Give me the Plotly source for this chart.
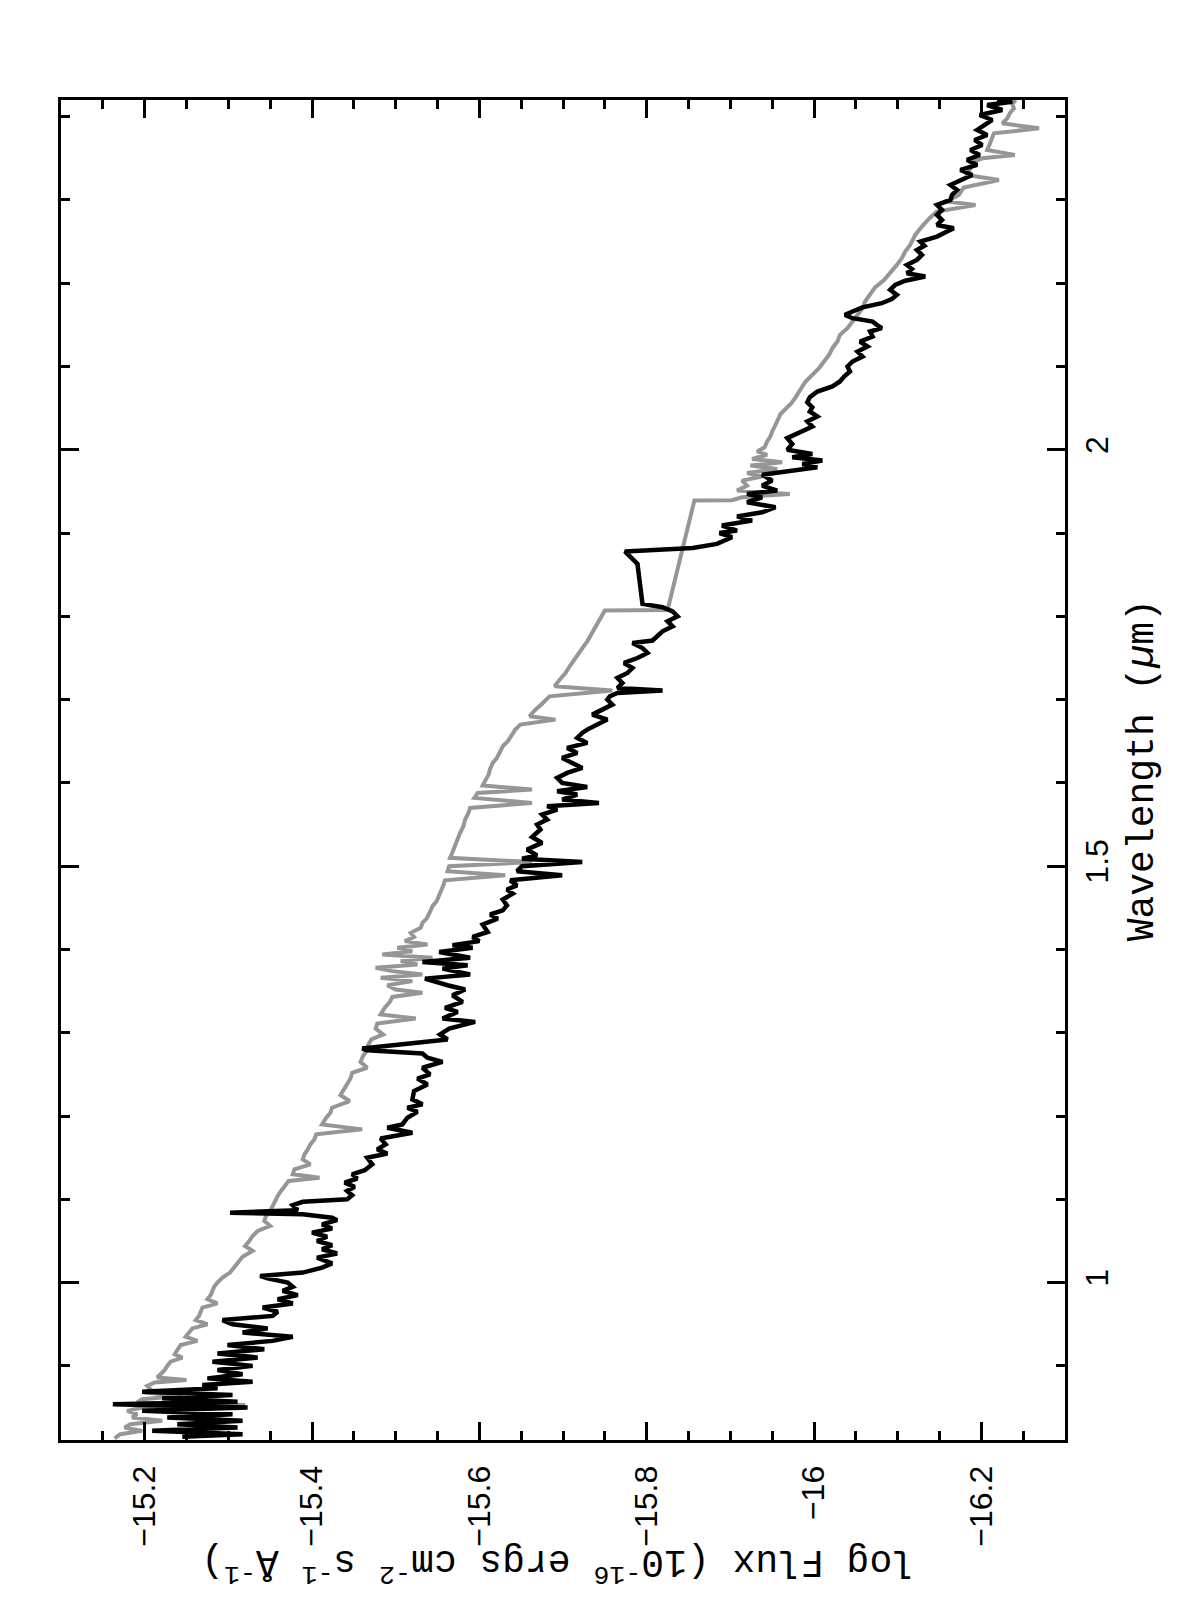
import plotly.graph_objects as go

# ---- data: gray spectrum (wavelength in micron, log flux) ----
gray_wl = [0.813, 0.818, 0.822, 0.826, 0.830, 0.834, 0.838, 0.842, 0.846, 0.850,
           0.853, 0.856, 0.860, 0.864, 0.868, 0.872, 0.876, 0.880, 0.883, 0.886,
           0.890, 0.895, 0.900, 0.905, 0.910, 0.914, 0.919, 0.925, 0.930, 0.935,
           0.940, 0.945, 0.950, 0.955, 0.960, 0.965, 0.970, 0.975, 0.980, 0.985,
           0.990, 0.995, 1.000, 1.006, 1.012, 1.018, 1.025, 1.031, 1.038, 1.044,
           1.050, 1.056, 1.062, 1.068, 1.074, 1.080, 1.086, 1.092, 1.098, 1.104,
           1.110, 1.116, 1.122, 1.126, 1.130, 1.136, 1.142, 1.148, 1.154, 1.160,
           1.166, 1.172, 1.178, 1.184, 1.190, 1.198, 1.204, 1.210, 1.218, 1.225,
           1.232, 1.238, 1.245, 1.252, 1.258, 1.265, 1.272, 1.278, 1.285, 1.292,
           1.298, 1.305, 1.311, 1.317, 1.322, 1.330, 1.337, 1.343, 1.348, 1.352,
           1.357, 1.362, 1.366, 1.370, 1.374, 1.378, 1.382, 1.386, 1.390, 1.394,
           1.398, 1.402, 1.406, 1.410, 1.415, 1.420, 1.426, 1.432, 1.437, 1.445,
           1.452, 1.458, 1.465, 1.472, 1.477, 1.483, 1.489, 1.494, 1.500, 1.505,
           1.510, 1.517, 1.525, 1.533, 1.540, 1.548, 1.556, 1.564, 1.570, 1.576,
           1.582, 1.588, 1.592, 1.597, 1.603, 1.610, 1.617, 1.624, 1.630, 1.637,
           1.644, 1.650, 1.657, 1.664, 1.670, 1.676, 1.680, 1.688, 1.695, 1.704,
           1.711, 1.716, 1.724, 1.732, 1.740, 1.748, 1.756, 1.763, 1.770, 1.777,
           1.783, 1.790, 1.797, 1.803, 1.807, 1.8075, 1.939, 1.9395, 1.943, 1.947,
           1.951, 1.957, 1.963, 1.968, 1.972, 1.977, 1.981, 1.985, 1.989, 1.994,
           1.998, 2.003, 2.010, 2.016, 2.022, 2.030, 2.036, 2.043, 2.050, 2.056,
           2.063, 2.070, 2.076, 2.082, 2.090, 2.098, 2.106, 2.114, 2.122, 2.130,
           2.138, 2.146, 2.154, 2.162, 2.170, 2.178, 2.186, 2.195, 2.204, 2.214,
           2.222, 2.230, 2.238, 2.246, 2.258, 2.268, 2.278, 2.286, 2.294, 2.298,
           2.306, 2.315, 2.324, 2.330, 2.338, 2.345, 2.350, 2.354, 2.360, 2.367,
           2.374, 2.380, 2.386, 2.392, 2.398, 2.404, 2.410, 2.415, 2.420]
gray_flux = [-15.164, -15.171, -15.197, -15.176, -15.183, -15.221, -15.185, -15.191, -15.179, -15.197,
             -15.320, -15.191, -15.197, -15.245, -15.200, -15.207, -15.203, -15.212, -15.250, -15.215,
             -15.219, -15.224, -15.227, -15.231, -15.245, -15.236, -15.239, -15.243, -15.263, -15.249,
             -15.253, -15.257, -15.275, -15.261, -15.265, -15.267, -15.269, -15.287, -15.275, -15.279,
             -15.281, -15.283, -15.287, -15.293, -15.302, -15.307, -15.312, -15.317, -15.329, -15.320,
             -15.325, -15.329, -15.335, -15.350, -15.343, -15.345, -15.350, -15.353, -15.355, -15.359,
             -15.363, -15.367, -15.372, -15.409, -15.377, -15.379, -15.398, -15.389, -15.391, -15.395,
             -15.398, -15.403, -15.405, -15.460, -15.412, -15.417, -15.422, -15.424, -15.445, -15.434,
             -15.438, -15.441, -15.446, -15.448, -15.466, -15.458, -15.461, -15.465, -15.467, -15.471,
             -15.485, -15.476, -15.478, -15.524, -15.482, -15.487, -15.493, -15.496, -15.532, -15.500,
             -15.490, -15.520, -15.482, -15.532, -15.496, -15.476, -15.526, -15.506, -15.544, -15.484,
             -15.520, -15.502, -15.538, -15.511, -15.522, -15.518, -15.530, -15.532, -15.537, -15.541,
             -15.544, -15.549, -15.552, -15.556, -15.557, -15.559, -15.631, -15.562, -15.564, -15.663,
             -15.565, -15.568, -15.571, -15.575, -15.577, -15.581, -15.583, -15.587, -15.589, -15.663,
             -15.594, -15.598, -15.663, -15.604, -15.607, -15.611, -15.613, -15.616, -15.621, -15.624,
             -15.628, -15.634, -15.638, -15.643, -15.649, -15.691, -15.660, -15.667, -15.675, -15.684,
             -15.759, -15.690, -15.696, -15.703, -15.708, -15.714, -15.719, -15.724, -15.729, -15.733,
             -15.737, -15.741, -15.745, -15.748, -15.750, -15.825, -15.857, -15.902, -15.914, -15.971,
             -15.908, -15.920, -15.914, -15.938, -15.920, -15.956, -15.924, -15.962, -15.926, -15.944,
             -15.932, -15.941, -15.944, -15.948, -15.950, -15.954, -15.957, -15.960, -15.967, -15.973,
             -15.978, -15.983, -15.986, -15.990, -15.998, -16.006, -16.012, -16.018, -16.022, -16.028,
             -16.031, -16.040, -16.046, -16.052, -16.058, -16.061, -16.067, -16.073, -16.084, -16.093,
             -16.099, -16.105, -16.109, -16.115, -16.121, -16.129, -16.138, -16.147, -16.193, -16.159,
             -16.173, -16.179, -16.221, -16.183, -16.187, -16.189, -16.201, -16.240, -16.207, -16.210,
             -16.213, -16.215, -16.269, -16.225, -16.231, -16.234, -16.239, -16.237, -16.241]

# ---- data: black spectrum ----
black_wl = [0.815, 0.818, 0.822, 0.826, 0.830, 0.834, 0.838, 0.842, 0.846, 0.850,
            0.854, 0.857, 0.861, 0.865, 0.869, 0.873, 0.877, 0.881, 0.885, 0.890,
            0.895, 0.900, 0.905, 0.910, 0.915, 0.920, 0.925, 0.930, 0.935, 0.940,
            0.945, 0.950, 0.955, 0.960, 0.965, 0.970, 0.975, 0.980, 0.985, 0.990,
            0.995, 1.000, 1.005, 1.008, 1.012, 1.018, 1.023, 1.030, 1.035, 1.040,
            1.045, 1.050, 1.055, 1.060, 1.065, 1.070, 1.075, 1.078, 1.082, 1.084,
            1.087, 1.093, 1.097, 1.100, 1.105, 1.110, 1.115, 1.120, 1.125, 1.130,
            1.135, 1.142, 1.150, 1.155, 1.160, 1.166, 1.173, 1.180, 1.186, 1.190,
            1.198, 1.205, 1.210, 1.214, 1.220, 1.230, 1.238, 1.245, 1.250, 1.258,
            1.265, 1.270, 1.275, 1.279, 1.281, 1.292, 1.298, 1.305, 1.313, 1.317,
            1.325, 1.330, 1.337, 1.345, 1.352, 1.357, 1.365, 1.370, 1.377, 1.381,
            1.385, 1.390, 1.397, 1.402, 1.405, 1.410, 1.415, 1.421, 1.430, 1.437,
            1.442, 1.447, 1.453, 1.460, 1.467, 1.472, 1.477, 1.483, 1.489, 1.494,
            1.500, 1.505, 1.509, 1.513, 1.520, 1.528, 1.535, 1.544, 1.550, 1.556,
            1.562, 1.568, 1.572, 1.576, 1.580, 1.586, 1.590, 1.595, 1.600, 1.606,
            1.612, 1.618, 1.624, 1.630, 1.636, 1.642, 1.648, 1.654, 1.660, 1.664,
            1.670, 1.676, 1.682, 1.688, 1.694, 1.700, 1.704, 1.708, 1.711, 1.714,
            1.720, 1.726, 1.732, 1.738, 1.744, 1.750, 1.756, 1.762, 1.768, 1.771,
            1.776, 1.782, 1.788, 1.794, 1.800, 1.806, 1.811, 1.815, 1.863, 1.878,
            1.882, 1.887, 1.895, 1.900, 1.903, 1.909, 1.915, 1.920, 1.925, 1.931,
            1.937, 1.943, 1.947, 1.951, 1.957, 1.963, 1.970, 1.975, 1.979, 1.983,
            1.987, 1.991, 1.995, 2.000, 2.007, 2.014, 2.022, 2.028, 2.034, 2.040,
            2.046, 2.051, 2.057, 2.063, 2.070, 2.076, 2.082, 2.088, 2.094, 2.100,
            2.106, 2.112, 2.118, 2.124, 2.130, 2.136, 2.142, 2.146, 2.150, 2.154,
            2.158, 2.162, 2.166, 2.171, 2.176, 2.181, 2.186, 2.192, 2.198, 2.203,
            2.208, 2.212, 2.217, 2.222, 2.228, 2.234, 2.240, 2.245, 2.250, 2.256,
            2.262, 2.266, 2.270, 2.276, 2.282, 2.288, 2.294, 2.300, 2.306, 2.312,
            2.318, 2.324, 2.330, 2.336, 2.342, 2.348, 2.354, 2.360, 2.366, 2.372,
            2.378, 2.384, 2.390, 2.396, 2.402, 2.408, 2.414, 2.418, 2.421]
black_flux = [-15.245, -15.317, -15.209, -15.311, -15.239, -15.317, -15.227, -15.305, -15.197, -15.323,
              -15.162, -15.311, -15.221, -15.305, -15.197, -15.287, -15.269, -15.329, -15.275, -15.317,
              -15.287, -15.329, -15.281, -15.335, -15.287, -15.343, -15.299, -15.353, -15.377, -15.317,
              -15.347, -15.305, -15.293, -15.353, -15.359, -15.341, -15.377, -15.359, -15.383, -15.365,
              -15.377, -15.371, -15.347, -15.338, -15.389, -15.412, -15.424, -15.406, -15.430, -15.412,
              -15.424, -15.406, -15.418, -15.400, -15.424, -15.412, -15.430, -15.424, -15.389, -15.302,
              -15.383, -15.377, -15.389, -15.442, -15.448, -15.442, -15.451, -15.439, -15.454, -15.448,
              -15.463, -15.472, -15.466, -15.490, -15.478, -15.488, -15.482, -15.520, -15.490, -15.508,
              -15.514, -15.526, -15.514, -15.532, -15.520, -15.522, -15.538, -15.526, -15.541, -15.532,
              -15.556, -15.538, -15.532, -15.466, -15.460, -15.562, -15.553, -15.564, -15.595, -15.556,
              -15.574, -15.559, -15.580, -15.568, -15.583, -15.562, -15.535, -15.589, -15.556, -15.586,
              -15.532, -15.589, -15.552, -15.592, -15.568, -15.600, -15.592, -15.610, -15.604, -15.622,
              -15.613, -15.628, -15.633, -15.628, -15.640, -15.633, -15.645, -15.637, -15.699, -15.645,
              -15.651, -15.723, -15.651, -15.669, -15.657, -15.675, -15.663, -15.673, -15.669, -15.681,
              -15.675, -15.693, -15.681, -15.743, -15.699, -15.717, -15.693, -15.729, -15.699, -15.693,
              -15.705, -15.723, -15.711, -15.699, -15.717, -15.705, -15.729, -15.717, -15.723, -15.729,
              -15.741, -15.753, -15.735, -15.747, -15.759, -15.753, -15.756, -15.765, -15.819, -15.765,
              -15.771, -15.765, -15.777, -15.783, -15.773, -15.789, -15.801, -15.795, -15.783, -15.807,
              -15.813, -15.819, -15.831, -15.825, -15.837, -15.831, -15.819, -15.795, -15.789, -15.774,
              -15.855, -15.884, -15.902, -15.887, -15.908, -15.890, -15.926, -15.908, -15.938, -15.954,
              -15.920, -15.938, -15.920, -15.956, -15.938, -15.950, -15.938, -15.974, -16.004, -15.986,
              -16.010, -15.974, -15.998, -15.968, -15.974, -15.968, -15.984, -15.998, -15.992, -16.004,
              -15.995, -15.998, -15.992, -15.995, -16.004, -16.022, -16.031, -16.036, -16.043, -16.040,
              -16.046, -16.058, -16.052, -16.064, -16.055, -16.070, -16.067, -16.081, -16.075, -16.070,
              -16.046, -16.037, -16.046, -16.058, -16.081, -16.093, -16.099, -16.091, -16.097, -16.109,
              -16.133, -16.111, -16.117, -16.111, -16.123, -16.129, -16.123, -16.132, -16.127, -16.147,
              -16.159, -16.167, -16.147, -16.153, -16.147, -16.153, -16.147, -16.163, -16.165, -16.171,
              -16.163, -16.177, -16.189, -16.175, -16.195, -16.183, -16.198, -16.187, -16.201, -16.192,
              -16.207, -16.195, -16.203, -16.213, -16.198, -16.225, -16.207, -16.237, -16.219]

# ---- axes ----
flux_ticks = [-15.2, -15.4, -15.6, -15.8, -16.0, -16.2]
flux_labels = ["\u221215.2", "\u221215.4", "\u221215.6", "\u221215.8", "\u221216", "\u221216.2"]
wl_ticks = [1.0, 1.5, 2.0]
wl_labels = ["1", "1.5", "2"]
flux_range = [-15.1, -16.3]
wl_range = [0.811, 2.42]

fig = go.Figure()
fig.add_trace(go.Scatter(x=gray_flux, y=gray_wl, mode="lines",
                         line=dict(color="#969696", width=4)))
fig.add_trace(go.Scatter(x=black_flux, y=black_wl, mode="lines",
                         line=dict(color="#000000", width=4.5)))

tickfont = dict(family="Liberation Sans", size=32, color="black")
fig.update_xaxes(range=flux_range, tickvals=flux_ticks, ticktext=flux_labels,
                 tickangle=-90, ticks="inside", ticklen=18, tickwidth=3, tickcolor="black",
                 showline=True, linewidth=3, linecolor="black", mirror="ticks",
                 showgrid=False, zeroline=False, tickfont=tickfont, ticklabelstandoff=10,
                 minor=dict(tickmode="linear", tick0=0, dtick=0.05, ticks="inside",
                            ticklen=9, tickwidth=3, tickcolor="black", showgrid=False))
fig.update_yaxes(range=wl_range, tickvals=wl_ticks, ticktext=wl_labels, side="right",
                 tickangle=-90, ticks="inside", ticklen=18, tickwidth=3, tickcolor="black",
                 showline=True, linewidth=3, linecolor="black", mirror="ticks",
                 showgrid=False, zeroline=False, tickfont=tickfont, ticklabelstandoff=2,
                 minor=dict(tickmode="linear", tick0=0, dtick=0.1, ticks="inside",
                            ticklen=9, tickwidth=3, tickcolor="black", showgrid=False))

titlefont = dict(family="Liberation Mono", size=38, color="black")
fig.add_annotation(xref="paper", yref="paper", x=1.077, y=0.5, showarrow=False,
                   text="Wavelength (<i>\u00b5</i>m)", textangle=-90, font=titlefont,
                   xanchor="center", yanchor="middle")
fig.add_annotation(xref="paper", yref="paper", x=0.495, y=-0.093, showarrow=False,
                   text="log Flux (10<sup>-16</sup> ergs cm<sup>-2</sup> s<sup>-1</sup> \u00c5<sup>-1</sup>)",
                   textangle=180, font=titlefont, xanchor="center", yanchor="middle")

fig.update_layout(width=1196, height=1600, showlegend=False,
                  margin=dict(l=53, r=139, t=92, b=168),
                  plot_bgcolor="white", paper_bgcolor="white")

fig.write_html("out.html")
